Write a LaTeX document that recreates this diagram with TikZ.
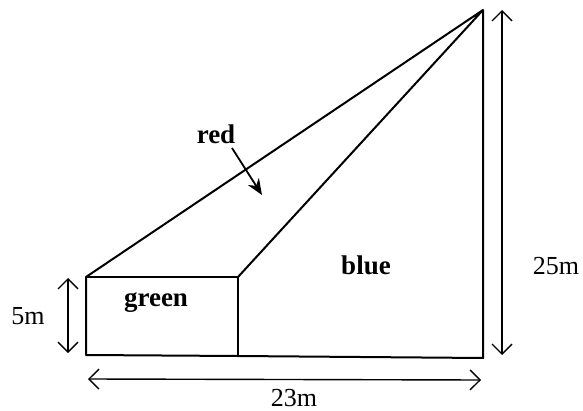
\documentclass[tikz,border=0pt]{standalone}
\usepackage{fontspec}
\setmainfont{Liberation Serif}
\usepackage{tikz}
\usetikzlibrary{arrows.meta, positioning}
\tikzstyle{edge} = [line width=1pt, line join=round]
\tikzstyle{dim} = [line width=0.7pt, {Straight Barb[length=5pt,width=10pt]}-{Straight Barb[length=5pt,width=10pt]}]
\tikzstyle{lbl} = [font=\fontsize{13}{15}\selectfont, inner sep=0pt]
\tikzstyle{region} = [font=\fontsize{13.5}{15}\selectfont\bfseries, inner sep=0pt]

\begin{document}
\begin{tikzpicture}[x=0.5pt, y=-0.5pt]
        \useasboundingbox (0,0) rectangle (583,411);
        % outline of the plot
        \coordinate (tl) at (86,277);
        \coordinate (tm) at (238,277);
        \coordinate (bl) at (86,355);
        \coordinate (bm) at (238,356);
        \coordinate (br) at (483,358);
        \coordinate (top) at (483,10);
        \draw[edge] (tl) -- (tm) -- (bm);
        \draw[edge] (top) -- (tl) -- (bl) -- (bm) -- (br) -- (top) -- (tm);

        % dimensions
        \coordinate (h1) at (68,278);
        \coordinate (h2) at (68,353);
        \coordinate (v1) at (502,10);
        \coordinate (v2) at (502,355);
        \coordinate (w1) at (88,379);
        \coordinate (w2) at (481,380);
        \draw[dim] (h1) -- (h2);
        \draw[dim] (v1) -- (v2);
        \draw[dim] (w1) -- (w2);
        \node[lbl] (five) at (28,316) {5m};
        \node[lbl] (twentyfive) at (556,266) {25m};
        \node[lbl] (twentythree) at (294,398) {23m};

        % regions
        \node[region] (green) at (156,303) {green};
        \node[region] (blue) at (366,265) {blue};
        \node[region] (red) at (216,134) {red};
        \coordinate (redtail) at (232,148);
        \coordinate (redtip) at (262,195);
        \draw[line width=0.9pt, -{Stealth[length=8pt,width=6.5pt]}] (redtail) -- (redtip);
    \end{tikzpicture}
\end{document}
